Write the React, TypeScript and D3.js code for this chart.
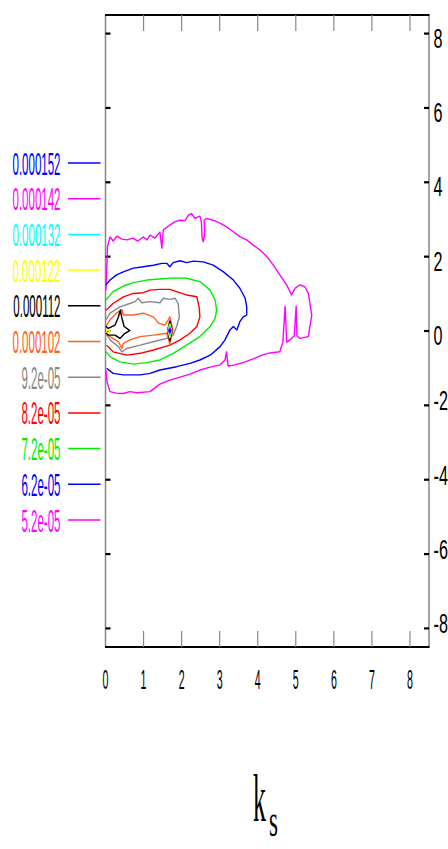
import React from "react";
import * as d3 from "d3";

// Legend / contour levels (top to bottom in legend)
const levelLabels = ["0.000152", "0.000142", "0.000132", "0.000122", "0.000112", "0.000102", "9.2e-05", "8.2e-05", "7.2e-05", "6.2e-05", "5.2e-05"];
const levelColors = ["#0000ff", "#ff00ff", "#00ffff", "#ffff00", "#000000", "#ff6022", "#888888", "#ff0000", "#00ee00", "#0000ff", "#ff00ff"];

const xTicks = [0, 1, 2, 3, 4, 5, 6, 7, 8];
const yTicks = [8, 6, 4, 2, 0, -2, -4, -6, -8];

// contour polylines, data units [k_s, y]
const c52: [number, number][] = [
  [0.01, 1.1], [0.04, 1.86], [0.05, 2.26], [0.12, 2.53], [0.2, 2.42], [0.3, 2.55], [0.43, 2.47], [0.56, 2.45], [0.72, 2.5], [0.85, 2.42], [0.99, 2.53], [1.09, 2.45], [1.17, 2.58], [1.3, 2.5], [1.43, 2.66], [1.48, 2.23], [1.52, 2.72], [1.69, 2.85], [1.83, 2.94], [1.96, 2.98], [2.09, 2.97], [2.18, 3.12], [2.26, 3.16], [2.35, 3.03], [2.48, 3.09], [2.52, 2.93], [2.54, 2.5], [2.57, 2.4], [2.61, 2.64], [2.59, 2.98], [2.66, 3.03], [2.83, 2.98], [3.01, 2.9], [3.18, 2.8], [3.36, 2.67], [3.53, 2.54], [3.71, 2.45], [3.88, 2.31], [4.06, 2.18], [4.24, 2.0], [4.41, 1.77], [4.58, 1.51], [4.76, 1.24], [4.89, 0.97], [4.98, 1.15], [5.11, 1.24], [5.24, 1.19], [5.33, 1.01], [5.42, 0.43], [5.37, 0.12], [5.33, -0.15], [5.11, -0.2], [5.03, -0.13], [5.01, 0.67], [4.96, -0.13], [4.85, -0.24], [4.76, -0.3], [4.72, 0.67], [4.66, -0.3], [4.58, -0.56], [4.32, -0.59], [4.11, -0.65], [3.93, -0.73], [3.67, -0.83], [3.4, -0.91], [3.22, -0.94], [3.18, -0.56], [3.14, -0.78], [3.01, -0.91], [2.75, -0.97], [2.48, -1.05], [2.22, -1.16], [1.96, -1.24], [1.69, -1.32], [1.43, -1.43], [1.17, -1.63], [0.83, -1.66], [0.64, -1.63], [0.47, -1.68], [0.28, -1.67], [0.12, -1.63], [0.04, -1.37], [0.01, -1.05],
];
const c62: [number, number][] = [
  [0.01, 1.24], [0.12, 1.37], [0.29, 1.51], [0.47, 1.59], [0.73, 1.69], [0.99, 1.73], [1.26, 1.77], [1.48, 1.82], [1.61, 1.82], [1.69, 1.73], [1.78, 1.84], [1.96, 1.89], [2.13, 1.84], [2.31, 1.88], [2.57, 1.86], [2.83, 1.77], [3.1, 1.59], [3.36, 1.37], [3.53, 1.15], [3.67, 0.88], [3.71, 0.65], [3.71, 0.43], [3.62, 0.38], [3.53, 0.25], [3.45, 0.03], [3.36, 0.12], [3.27, 0.03], [3.14, -0.24], [3.01, -0.42], [2.75, -0.65], [2.48, -0.78], [2.22, -0.87], [1.87, -0.96], [1.43, -1.05], [1.17, -1.14], [0.91, -1.18], [0.47, -1.18], [0.2, -1.14], [0.03, -1.0],
];
const c72: [number, number][] = [
  [0.01, 0.83], [0.2, 1.06], [0.47, 1.21], [0.73, 1.3], [1.08, 1.37], [1.43, 1.4], [1.78, 1.43], [2.13, 1.42], [2.48, 1.33], [2.75, 1.1], [2.88, 0.83], [2.92, 0.56], [2.88, 0.34], [2.75, 0.12], [2.48, -0.15], [2.13, -0.38], [1.78, -0.6], [1.43, -0.78], [1.08, -0.85], [0.73, -0.89], [0.38, -0.83], [0.12, -0.69], [0.01, -0.56],
];
const c82: [number, number][] = [
  [0.01, 0.56], [0.2, 0.74], [0.47, 0.92], [0.73, 1.01], [0.99, 1.03], [1.17, 1.1], [1.43, 1.12], [1.69, 1.12], [1.87, 1.06], [2.13, 0.97], [2.4, 0.92], [2.46, 0.65], [2.48, 0.38], [2.4, 0.12], [2.22, -0.06], [1.96, -0.24], [1.69, -0.38], [1.26, -0.51], [0.91, -0.6], [0.56, -0.65], [0.2, -0.56], [0.03, -0.38],
];
const c92: [number, number][] = [
  [0.01, 0.3], [0.12, 0.48], [0.38, 0.65], [0.64, 0.74], [0.78, 0.79], [0.86, 0.88], [0.95, 0.76], [1.17, 0.79], [1.43, 0.76], [1.52, 0.88], [1.69, 0.85], [1.83, 0.88], [1.91, 0.74], [1.94, 0.38], [1.87, 0.12], [1.78, -0.11], [1.61, -0.2], [1.26, -0.29], [0.91, -0.38], [0.56, -0.47], [0.43, -0.56], [0.34, -0.42], [0.12, -0.24], [0.01, -0.06],
];
const c102: [number, number][] = [
  [0.01, 0.12], [0.12, 0.3], [0.29, 0.48], [0.43, 0.58], [0.47, 0.43], [0.73, 0.43], [0.99, 0.48], [1.26, 0.38], [1.39, 0.21], [1.56, 0.16], [1.65, 0.3], [1.69, 0.38], [1.77, 0.03], [1.69, -0.35], [1.61, -0.06], [1.26, -0.11], [0.91, -0.15], [0.64, -0.24], [0.47, -0.33], [0.43, -0.47], [0.34, -0.29], [0.12, -0.15], [0.01, -0.06],
];
const c112: [number, number][] = [
  [0.01, 0.13], [0.07, 0.07], [0.25, 0.16], [0.33, 0.35], [0.39, 0.56], [0.43, 0.35], [0.49, 0.12], [0.64, 0.01], [0.49, -0.08], [0.38, -0.2], [0.25, -0.11], [0.07, -0.11], [0.01, -0.05],
];
const c112b: [number, number][] = [[1.69, 0.28], [1.75, 0.01], [1.69, -0.26], [1.63, 0.01], [1.69, 0.28]];
const c122: [number, number][] = [[0.04, 0.03], [0.12, 0.0], [0.07, -0.05], [0.02, -0.02], [0.04, 0.03]];
const c122b: [number, number][] = [[1.69, 0.2], [1.74, 0.01], [1.69, -0.18], [1.64, 0.01], [1.69, 0.2]];
const c132b: [number, number][] = [[1.69, 0.14], [1.73, 0.01], [1.69, -0.12], [1.65, 0.01], [1.69, 0.14]];
const c142b: [number, number][] = [[1.69, 0.09], [1.72, 0.01], [1.69, -0.07], [1.66, 0.01], [1.69, 0.09]];
const c152b: [number, number][] = [[1.69, 0.05], [1.71, 0.01], [1.69, -0.03], [1.67, 0.01], [1.69, 0.05]];

const contours: { pts: [number, number][]; color: string }[] = [
  { pts: c52, color: levelColors[10] },
  { pts: c62, color: levelColors[9] },
  { pts: c72, color: levelColors[8] },
  { pts: c82, color: levelColors[7] },
  { pts: c92, color: levelColors[6] },
  { pts: c102, color: levelColors[5] },
  { pts: c112, color: levelColors[4] },
  { pts: c112b, color: levelColors[4] },
  { pts: c122, color: levelColors[3] },
  { pts: c122b, color: levelColors[3] },
  { pts: c132b, color: levelColors[2] },
  { pts: c142b, color: levelColors[1] },
  { pts: c152b, color: levelColors[0] },
];

const W = 448;
const H = 849;
const left = 105.5, right = 429, top = 15, bottom = 647;

export default function App() {
  const x = d3.scaleLinear().domain([0, 8.5]).range([left, right]);
  const y = d3.scaleLinear().domain([-8.5, 8.5]).range([bottom, top]);
  const line = d3.line<[number, number]>().x((d) => x(d[0])).y((d) => y(d[1]));
  const legendY = d3.scaleLinear().domain([0, 10]).range([163, 520]);
  const font = "'Liberation Sans', Arial, sans-serif";

  return (
    <div style={{ position: "absolute", left: 0, top: 0 }}>
      <svg width={W} height={H} style={{ display: "block", background: "#fff" }}>
        {/* frame */}
        <line x1={left} x2={left} y1={top} y2={bottom} stroke="#888" strokeWidth={1.5} />
        <line x1={right} x2={right} y1={top} y2={bottom} stroke="#888" strokeWidth={1.5} />
        <line x1={left - 0.5} x2={right + 0.5} y1={top} y2={top} stroke="#000" strokeWidth={2.2} />
        <line x1={left - 0.5} x2={right + 0.5} y1={bottom} y2={bottom} stroke="#000" strokeWidth={2.2} />
        {/* x ticks */}
        {xTicks.filter((t) => t > 0).map((t) => (
          <g key={"xt" + t}>
            <line x1={x(t)} x2={x(t)} y1={bottom} y2={bottom - 16} stroke="#888" strokeWidth={1.2} />
            <line x1={x(t)} x2={x(t)} y1={top} y2={top + 16} stroke="#888" strokeWidth={1.2} />
          </g>
        ))}
        {xTicks.map((t) => (
          <text key={"xl" + t} transform={`translate(${x(t)},689) scale(0.38,1)`} textAnchor="middle" fontFamily={font} fontSize={28} fill="#000">
            {t}
          </text>
        ))}
        {/* y ticks */}
        {yTicks.map((t) => (
          <g key={"yt" + t}>
            <line x1={left} x2={left + 5} y1={y(t)} y2={y(t)} stroke="#000" strokeWidth={2.2} />
            <line x1={right - 5} x2={right} y1={y(t)} y2={y(t)} stroke="#000" strokeWidth={2.2} />
            <text transform={`translate(433.5,${y(t) + (t >= 0 ? 14 : 5)}) scale(0.6,1)`} textAnchor="start" fontFamily={font} fontSize={27} fill="#000">
              {t}
            </text>
          </g>
        ))}
        {/* contours */}
        {contours.map((c, i) => (
          <path key={"c" + i} d={line(c.pts) || ""} fill="none" stroke={c.color} strokeWidth={1.4} strokeLinejoin="round" />
        ))}
        {/* legend */}
        {levelLabels.map((lab, i) => (
          <g key={"lg" + i}>
            <line x1={68} x2={100.5} y1={legendY(i)} y2={legendY(i)} stroke={levelColors[i]} strokeWidth={1.5} />
            <text transform={`translate(60.5,${legendY(i) + 11.5}) scale(0.36,1)`} textAnchor="end" fontFamily={font} fontSize={32} fill={levelColors[i]}>
              {lab}
            </text>
          </g>
        ))}
        {/* axis title */}
        <text transform="translate(253,821) scale(0.38,1)" fontFamily="'Liberation Serif', 'DejaVu Serif', serif" fontSize={68} fill="#000">k</text>
        <text transform="translate(269,836) scale(0.5,1)" fontFamily="'Liberation Serif', 'DejaVu Serif', serif" fontSize={46} fill="#000">s</text>
      </svg>
    </div>
  );
}
